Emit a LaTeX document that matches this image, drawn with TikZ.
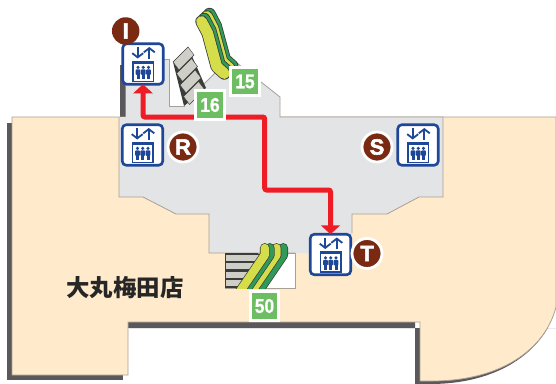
\documentclass[tikz,border=0pt]{standalone}
\usepackage{fontspec}
\setmainfont{Liberation Sans}
\newfontfamily\cjkfont{Noto Sans CJK JP}
\newfontfamily\numfont[FakeStretch=0.87,BoldFeatures={FakeStretch=0.87,FakeBold=0.8}]{Liberation Sans}
\newfontfamily\badgefont[BoldFeatures={FakeBold=2.5}]{Liberation Sans}
\usetikzlibrary{arrows.meta}
\definecolor{cream}{HTML}{FFEBCB}
\definecolor{floorgray}{HTML}{E3E4E6}
\definecolor{wallgray}{HTML}{5A585A}
\definecolor{edgegray}{HTML}{A89F95}
\definecolor{badgebrown}{HTML}{7A2A12}
\definecolor{elevblue}{HTML}{1F4797}
\definecolor{numgreen}{HTML}{6DBE63}
\definecolor{escyellow}{HTML}{D6DD4B}
\definecolor{escgreen}{HTML}{2F9A5A}
\definecolor{escdark}{HTML}{3A3D3A}
\definecolor{treadgray}{HTML}{CFCFC7}
\definecolor{routered}{HTML}{EE1C25}
\tikzset{
  elevbox/.style={draw=elevblue,fill=white,line width=2.6pt,rounded corners=4pt,minimum size=40.5pt,inner sep=0pt,outer sep=0pt},
  badge/.style={circle,fill=badgebrown,draw=white,line width=2.8pt,minimum size=30pt,inner sep=0pt,text=white,font=\badgefont\bfseries\fontsize{22}{22}\selectfont},
  numtag/.style={fill=numgreen,draw=white,line width=3.4pt,minimum size=28.5pt,inner sep=0pt,text=white,font=\numfont\bfseries\fontsize{20}{20}\selectfont},
  floorline/.style={draw=edgegray,line width=0.8pt},
  route/.style={draw=routered,line width=5pt,{Triangle[width=19pt,length=9pt]}-{Triangle[width=19pt,length=9pt]}},
  elevicon/.pic={
    \draw[elevblue,line width=1.8pt,-{Straight Barb[length=4.2pt,width=11pt]}] (-5.3,-17)--(-5.3,-5.5);
    \draw[elevblue,line width=1.8pt,-{Straight Barb[length=4.2pt,width=11pt]}] (6.3,-5.5)--(6.3,-17);
    \draw[elevblue,line width=1.5pt] (-10,-2.7) rectangle (10.5,17.3);
    \fill[elevblue] (-10,-2.7) rectangle (10.5,-0.2);
    \foreach \px in {-5,0.25,5.5}{
      \fill[elevblue] (\px,3.4) circle[radius=1.7pt];
      \fill[elevblue,rounded corners=0.8pt] (\px-2.4,5.4) rectangle (\px+2.4,10.8);
      \fill[elevblue] (\px-1.5,9) rectangle (\px+1.5,15);
    }
  }
}
\begin{document}
\begin{tikzpicture}[x=1pt,y=-1pt]
\useasboundingbox (0,0) rectangle (556,383);
\fill[white] (0,0) rectangle (556,383);
% walls
\fill[wallgray] (7,123) rectangle (12,380);
\fill[wallgray] (7,375) rectangle (123,380);
\fill[wallgray] (120,65) rectangle (125.5,117);
\fill[wallgray] (556,309) .. controls (543,352) and (498,384) .. (430,384) -- (415,384) -- (415,322) -- (128,322) -- (128,328) -- (556,328) -- cycle;
\fill[white] (128,328) rectangle (415,383);
\draw[floorgray,line width=0.8pt] (128.5,328.5) -- (415,328.5);
\fill[white] (420,328) -- (556,328) -- (556,309) -- cycle;
% building
\path[fill=cream,floorline] (12,117) -- (556,117) -- (556,307) .. controls (545,350) and (500,381) .. (432,381) -- (420,381) -- (420,322) -- (128,322) -- (128,375) -- (12,375) -- cycle;
% floor
\path[fill=floorgray] (125.5,59) -- (169,59) -- (169,106) -- (185,106) -- (215,73) -- (237,63) -- (280,97) -- (280,117) -- (443,117) -- (443,197) -- (419,197) -- (387,214) -- (352,214) -- (352,253) -- (209,253) -- (209,214) -- (176,214) -- (143,197) -- (119,197) -- (119,117) -- (125.5,117) -- cycle;
\draw[floorline] (163,59) -- (169,59) -- (169,106) -- (185,106);
\draw[floorline] (198,90) -- (215,73);
\draw[floorline] (237,63) -- (280,97) -- (280,117) -- (443,117) -- (443,197) -- (419,197) -- (387,214) -- (352,214) -- (352,233);
\draw[floorline] (295,253) -- (209,253) -- (209,214) -- (176,214) -- (143,197) -- (119,197) -- (119,117);
\path[fill=white,floorline] (225,253) -- (295,253) -- (295,288) -- (225,288);
% stairs, upper
\fill[escdark] (173,62) -- (188,47) -- (206,88) -- (184,106) -- cycle;
\foreach \sx/\sy in {188/47,191.5/58.5,195/70,198.5/81.5}{
  \path[fill=treadgray,draw=escdark,line width=0.4pt] (\sx,\sy) -- (\sx+6,\sy+8) -- (\sx-9,\sy+23) -- (\sx-15,\sy+15) -- cycle;
}
% escalator 15
\foreach \ox/\oy/\ec in {8/-7.5/escgreen,5.3/-5/escyellow,2.7/-2.5/escgreen,0/0/escyellow}{
  \begin{scope}[shift={(\ox,\oy)}]
    \draw[escdark,line width=12.4pt,line cap=round,line join=round] (201.5,21.5) -- (207.7,33.3) -- (216.7,66.7) -- (224.3,73.5);
    \draw[\ec,line width=10.8pt,line cap=round,line join=round] (201.5,21.5) -- (207.7,33.3) -- (216.7,66.7) -- (224.3,73.5);
  \end{scope}
}
% stairs, lower
\fill[escdark] (225,253) rectangle (258,288);
\foreach \sy/\sx in {253.7/262,262/255,270.7/248,279/242}{
  \path[fill=treadgray,draw=escdark,line width=0.4pt] (225,\sy) rectangle (\sx,\sy+7.3);
}
% escalator 50
\begin{scope}
  \clip (225,235) rectangle (296,288);
  \foreach \cx/\ec in {283.2/escgreen,276.5/escyellow,269.8/escgreen,264.8/escyellow}{
    \draw[escdark,line width=9.8pt,line cap=round,line join=round] (\cx,248) -- (\cx,255) -- (\cx-28,296);
    \draw[\ec,line width=8.4pt,line cap=round,line join=round] (\cx,248) -- (\cx,255) -- (\cx-28,296);
  }
\end{scope}
% elevators
\node[elevbox] (elevI) at (143,64) {};
\pic at (elevI.center) {elevicon};
\node[elevbox] (elevR) at (142.5,145) {};
\pic at (elevR.center) {elevicon};
\node[elevbox] (elevS) at (418,145) {};
\pic at (elevS.center) {elevicon};
\node[elevbox] (elevT) at (330.5,254.5) {};
\pic at (elevT.center) {elevicon};
% route
\coordinate (rA) at (143,117);
\coordinate (rB) at (264.7,117);
\coordinate (rC) at (264.7,190);
\coordinate (rD) at (330.5,190);
\draw[route,rounded corners=2pt] (elevI.south) -- (rA) -- (rB) -- (rC) -- (rD) -- (elevT.north);
% badges
\node[circle,fill=badgebrown,minimum size=27.5pt,inner sep=0pt,text=white,font=\badgefont\bfseries\fontsize{22}{22}\selectfont] (badgeI) at (125.7,31) {I};
\node[badge] (badgeR) at (183,147) {R};
\node[badge] (badgeS) at (377,147) {S};
\node[badge] (badgeT) at (367,253.5) {T};
% number tags
\node[numtag] (tagA) at (245,81.5) {15};
\node[numtag] (tagB) at (210,105) {16};
\node[numtag] (tagC) at (264.5,306) {50};
% store name
\node[font=\cjkfont\bfseries\fontsize{23.4}{24}\selectfont,text=black!85,inner sep=0pt] (store) at (125,288) {大丸梅田店};
\end{tikzpicture}
\end{document}
